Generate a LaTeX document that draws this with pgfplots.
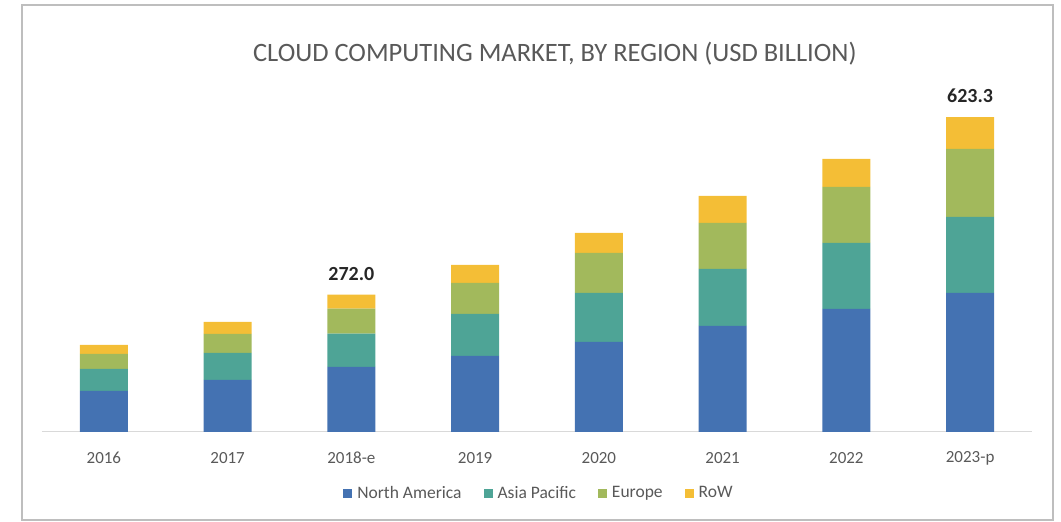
\documentclass[border=0pt]{standalone}
\usepackage{fontspec}
\setmainfont{Carlito}
\usepackage{pgfplots}
\pgfplotsset{compat=1.18}

\definecolor{cNA}{RGB}{68,114,178}
\definecolor{cAP}{RGB}{78,164,150}
\definecolor{cEU}{RGB}{162,185,92}
\definecolor{cRW}{RGB}{244,190,54}
\definecolor{txt}{RGB}{89,89,89}

\begin{document}
\begin{tikzpicture}
  % whole picture 1061 x 522, axis origin at baseline left (42,432)
  \path[use as bounding box] (-42pt,-90pt) rectangle (1019pt,432pt);
  \draw[draw={rgb,255:red,190;green,190;blue,190}, line width=1.6pt]
    (-20pt,-88pt) rectangle (1011pt,427pt);
  \begin{axis}[
      at={(0pt,0pt)}, anchor=south west,
      scale only axis,
      width=990pt, height=353.7pt,
      ybar stacked,
      bar width=48pt,
      xmin=-0.5, xmax=7.5,
      ymin=0, ymax=700,
      xtick={0,1,2,3,4,5,6,7},
      xticklabels={2016,2017,2018-e,2019,2020,2021,2022,2023-p},
      xtick style={draw=none},
      xticklabel style={anchor=center, yshift=-26pt, font=\fontsize{17}{20}\selectfont, text=txt},
      axis x line*=bottom,
      axis y line=none,
      x axis line style={-, draw={rgb,255:red,217;green,217;blue,217}, line width=1pt},
      title={CLOUD COMPUTING MARKET, BY REGION (USD BILLION)},
      title style={at={(0.518,1.054)}, anchor=center, font=\fontsize{26.5}{30}\selectfont, text=txt},
      legend style={at={(0.502,-0.1725)}, anchor=center, draw=none,
        font=\fontsize{17.5}{20}\selectfont, text=txt,
        /tikz/every odd column/.append style={column sep=3pt},
        /tikz/every even column/.append style={column sep=20pt}},
      legend columns=-1,
      legend image code/.code={\fill[#1] (0pt,-4.5pt) rectangle (9pt,4.5pt);},
    ]
    \addplot[fill=cNA, draw=none] coordinates {
      (0,81.2)(1,103)(2,129)(3,150.5)(4,178.2)(5,209.9)(6,243.5)(7,275.2)};
    \addlegendentry{North America}
    \addplot[fill=cAP, draw=none] coordinates {
      (0,43.6)(1,53.5)(2,65.5)(3,83.2)(4,97)(5,112.9)(6,130.7)(7,150.5)};
    \addlegendentry{Asia Pacific}
    \addplot[fill=cEU, draw=none] coordinates {
      (0,29.7)(1,37.6)(2,49.5)(3,61.4)(4,79.2)(5,91.1)(6,110.9)(7,134.6)};
    \addlegendentry{Europe}
    \addplot[fill=cRW, draw=none] coordinates {
      (0,17.8)(1,23.8)(2,28)(3,35.6)(4,39.6)(5,53.5)(6,55.4)(7,63.0)};
    \addlegendentry{RoW}
    \node[font=\bfseries\fontsize{20}{24}\selectfont, text=black!85, yshift=21pt]
      at (axis cs:2,272) {272.0};
    \node[font=\bfseries\fontsize{20}{24}\selectfont, text=black!85, yshift=21pt]
      at (axis cs:7,623.3) {623.3};
  \end{axis}
\end{tikzpicture}
\end{document}
